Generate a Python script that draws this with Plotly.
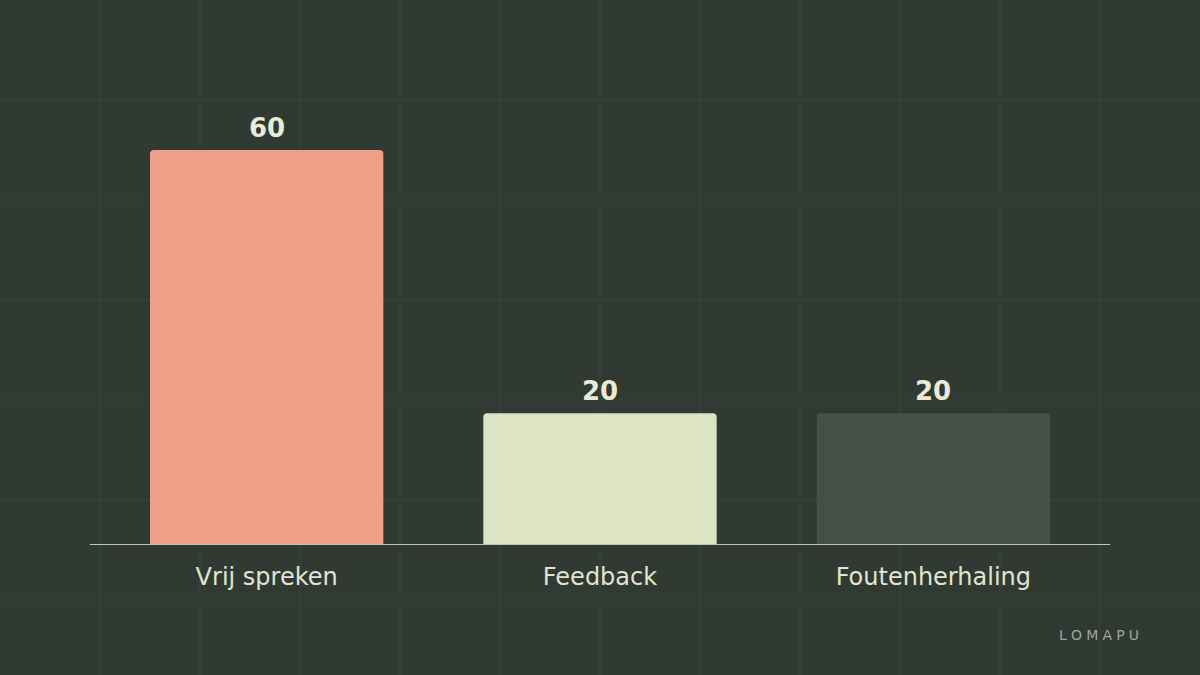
import plotly.graph_objects as go

categories = ['Vrij spreken', 'Feedback', 'Foutenherhaling']
values = [60, 20, 20]
bar_colors = ['#ef9f85', '#dce4c4', '#465049']

W, H = 1200, 675
left, right, top, bottom = 100, 100, 110, 130

fig = go.Figure()
fig.add_trace(go.Bar(
    x=categories, y=values,
    marker=dict(color=bar_colors, line=dict(width=0), cornerradius=4),
    width=0.70,
    hoverinfo='skip',
))

# value labels above the bars
annotations = []
for cat, val in zip(categories, values):
    annotations.append(dict(
        x=cat, y=val, text=str(val), showarrow=False,
        xanchor='center', yanchor='bottom', yshift=5,
        font=dict(family='DejaVu Sans', size=26, color='#ece9d6', weight='bold'),
    ))

plot_w = W - left - right
plot_h = H - top - bottom

# watermark
sp = '\u2009\u200a'
annotations.append(dict(
    text=sp.join('LOMAPU'), xref='paper', yref='paper',
    x=(1141 - left) / plot_w, y=(H - bottom - 635) / plot_h,
    xanchor='right', yanchor='middle', showarrow=False,
    font=dict(family='DejaVu Sans', size=14, color='#9ea79b'),
))

# faint background grid across the whole canvas (every 100px)
shapes = []
for px in range(100, W, 100):
    xp = (px - left) / plot_w
    shapes.append(dict(type='line', xref='paper', yref='paper', x0=xp, x1=xp,
                       y0=-bottom / plot_h, y1=(plot_h + top) / plot_h,
                       line=dict(color='#39443b', width=1), layer='below'))
for py in range(100, H, 100):
    yp = (H - bottom - py) / plot_h
    shapes.append(dict(type='line', xref='paper', yref='paper', y0=yp, y1=yp,
                       x0=-left / plot_w, x1=(plot_w + right) / plot_w,
                       line=dict(color='#39443b', width=1), layer='below'))
# baseline, a little wider than the plot area
shapes.append(dict(type='line', xref='paper', yref='y',
                   x0=-10 / plot_w, x1=1 + 10 / plot_w, y0=0, y1=0,
                   line=dict(color='#bcc4b2', width=2)))

fig.update_layout(
    width=W, height=H,
    margin=dict(l=left, r=right, t=top, b=bottom),
    paper_bgcolor='#303a32', plot_bgcolor='rgba(0,0,0,0)',
    showlegend=False,
    shapes=shapes,
    annotations=annotations,
    xaxis=dict(showgrid=False, zeroline=False, showline=False,
               ticks='outside', ticklen=10, tickcolor='rgba(0,0,0,0)',
               tickfont=dict(family='DejaVu Sans', size=24, color='#e2e4d2')),
    yaxis=dict(range=[0, 66.08], showgrid=False, zeroline=False,
               showticklabels=False, showline=False),
)

fig.write_html('out.html', config={'displayModeBar': False},
               post_script="document.body.style.margin='0';")
